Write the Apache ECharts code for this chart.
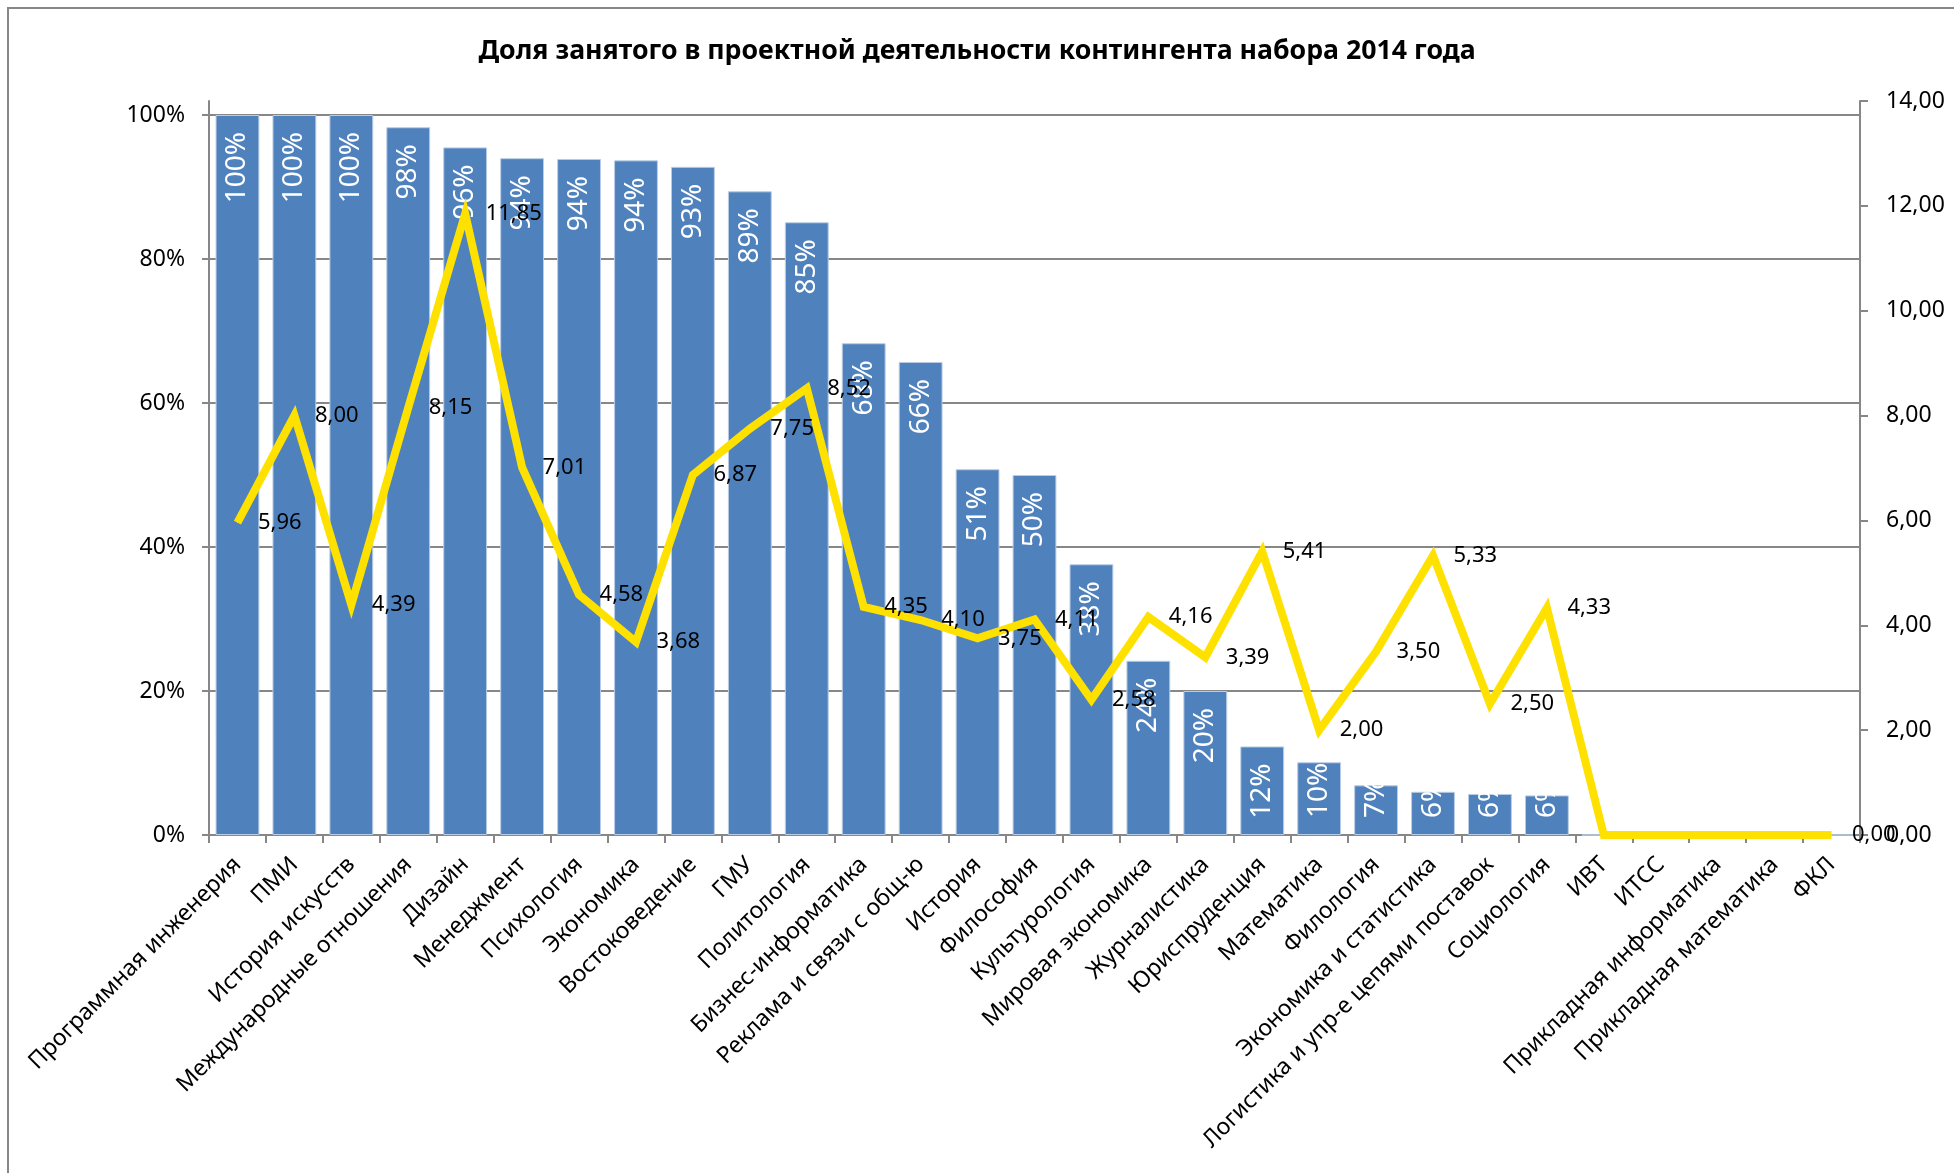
<!DOCTYPE html>
<html>
<head>
<meta charset="utf-8">
<script src="https://cdn.jsdelivr.net/npm/echarts@6/dist/echarts.min.js"></script>
<style>html,body{margin:0;padding:0;background:#fff}#chart{width:1954px;height:1173px}</style>
</head>
<body>
<div id="chart"></div>
<script>
const chartTitle = 'Доля занятого в проектной деятельности контингента набора 2014 года';
const categories = [
  'Программная инженерия','ПМИ','История искусств','Международные отношения','Дизайн',
  'Менеджмент','Психология','Экономика','Востоковедение','ГМУ','Политология',
  'Бизнес-информатика','Реклама и связи с общ-ю','История','Философия','Культурология',
  'Мировая экономика','Журналистика','Юриспруденция','Математика','Филология',
  'Экономика и статистика','Логистика и упр-е цепями поставок','Социология',
  'ИВТ','ИТСС','Прикладная информатика','Прикладная математика','ФКЛ'
];
// share of students engaged in project activity, %
const shareValues = [100,100,100,98.3,95.5,94.0,93.9,93.7,92.8,89.4,85.1,68.3,65.7,50.8,50.0,37.6,24.2,20.0,12.3,10.1,6.9,6.0,5.7,5.5,0,0,0,0,0];
// secondary series (right axis)
const ratioValues = [5.96,8.00,4.39,8.15,11.85,7.01,4.58,3.68,6.87,7.75,8.52,4.35,4.10,3.75,4.11,2.58,4.16,3.39,5.41,2.00,3.50,5.33,2.50,4.33,0,0,0,0,0];

const FONT = 'Noto Sans';
const GREY = '#878787';
const comma = v => v.toFixed(2).replace('.', ',');

const barData = shareValues.map(v => {
  const small = v < 11.5;
  return {
    value: v,
    label: small
      ? { position: 'insideBottom', align: 'left', verticalAlign: 'middle', distance: 17 }
      : { position: 'insideTop', align: 'right', verticalAlign: 'middle', distance: 17 }
  };
});

const lastIdx = ratioValues.length - 1;

const option = {
  animation: false,
  backgroundColor: '#ffffff',
  graphic: [{
    type: 'rect', silent: true, z: 0,
    shape: { x: 8, y: 8, width: 4000, height: 4000 },
    style: { fill: 'none', stroke: GREY, lineWidth: 2 }
  }],
  title: {
    text: chartTitle, left: 'center', top: 33,
    textStyle: { fontFamily: FONT, fontWeight: 'bold', fontSize: 26.7, color: '#000' }
  },
  grid: [
    { left: 209, right: 94, top: 115, bottom: 338 },
    { left: 209, right: 94, top: 101, bottom: 338 }
  ],
  xAxis: [
    {
      type: 'category', gridIndex: 0, data: categories,
      axisLine: { lineStyle: { color: GREY, width: 2 } },
      axisTick: { show: true, interval: 0, length: 8, lineStyle: { color: GREY, width: 2 } },
      axisLabel: { interval: 0, rotate: 45, margin: 26, fontSize: 23, color: '#000', fontFamily: FONT }
    },
    { type: 'category', gridIndex: 1, data: categories, show: false }
  ],
  yAxis: [
    {
      type: 'value', gridIndex: 0, min: 0, max: 100, interval: 20, position: 'left',
      axisLine: { show: true, lineStyle: { color: GREY, width: 2 } },
      axisTick: { show: true, length: 7, lineStyle: { color: GREY, width: 2 } },
      axisLabel: { formatter: '{value}%', margin: 24, fontSize: 23, color: '#000', fontFamily: FONT },
      splitLine: { show: true, lineStyle: { color: GREY, width: 2 } }
    },
    {
      type: 'value', gridIndex: 1, min: 0, max: 14, interval: 2, position: 'right',
      axisLine: { show: true, lineStyle: { color: GREY, width: 2 } },
      axisTick: { show: true, length: 8, lineStyle: { color: GREY, width: 2 } },
      axisLabel: { formatter: v => comma(v), margin: 26, fontSize: 23, color: '#000', fontFamily: FONT },
      splitLine: { show: false }
    },
    {
      type: 'value', gridIndex: 1, min: 0, max: 14, interval: 2, position: 'left',
      axisLine: { show: true, lineStyle: { color: GREY, width: 2 } },
      axisTick: { show: false }, axisLabel: { show: false }, splitLine: { show: false }
    }
  ],
  series: [
    {
      type: 'bar', xAxisIndex: 0, yAxisIndex: 0,
      barCategoryGap: '23%',
      itemStyle: { color: '#4F81BD', borderColor: '#B9CDE5', borderWidth: 1 },
      label: {
        show: true, rotate: 90, color: '#ffffff', fontSize: 28, fontFamily: FONT,
        formatter: p => Math.round(p.value) + '%'
      },
      data: barData
    },
    {
      type: 'line', xAxisIndex: 1, yAxisIndex: 1,
      data: ratioValues,
      symbol: 'circle', symbolSize: 1, showSymbol: true,
      itemStyle: { color: '#FFE100' },
      lineStyle: { color: '#FFE100', width: 8, join: 'miter' },
      label: {
        show: true, position: 'right', distance: 20, color: '#000', fontSize: 22, fontFamily: FONT,
        formatter: p => (p.value === 0 && p.dataIndex !== lastIdx) ? '' : comma(p.value)
      },
      z: 3
    }
  ]
};

const chart = echarts.init(document.getElementById('chart'), null, { renderer: 'canvas' });
chart.setOption(option);
</script>
</body>
</html>
